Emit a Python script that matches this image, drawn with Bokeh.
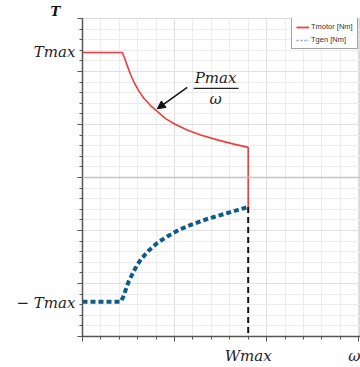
from bokeh.plotting import figure
from bokeh.models import (Range1d, SingleIntervalTicker, FixedTicker, LinearAxis, Label, Arrow,
                          NormalHead, Span, Legend, LegendItem, CustomJSTickFormatter)
from bokeh.embed import file_html
from bokeh.resources import INLINE

# ---- data ----
x_motor = [0.0, 0.432, 0.457, 0.486, 0.522, 0.565, 0.612, 0.666, 0.739, 0.812, 0.902,
           1.011, 1.138, 1.283, 1.464, 1.645, 1.80, 1.80]
t_motor = [2.358, 2.358, 2.254, 2.111, 1.944, 1.778, 1.635, 1.494, 1.357, 1.246, 1.111,
           1.0, 0.895, 0.802, 0.710, 0.630, 0.568, -0.556]

x_gen = [0.0, 0.413, 0.442, 0.467, 0.503, 0.551, 0.594, 0.649, 0.721, 0.812, 0.921,
         1.047, 1.192, 1.355, 1.536, 1.681, 1.80]
t_gen = [-2.346, -2.346, -2.254, -2.130, -1.957, -1.791, -1.648, -1.513, -1.376, -1.235, -1.111,
         -0.988, -0.883, -0.783, -0.691, -0.617, -0.556]

w_max = 1.80
t_max = 2.36
legend_labels = ["Tmotor [Nm]", "Tgen [Nm]"]

X_MIN, X_MAX = 0.0, 3.02
Y_MIN, Y_MAX = -3.0, 3.0

serif = "DejaVu Serif"
NAN = float("nan")

p = figure(width=360, height=367, output_backend="svg", toolbar_location=None,
           x_range=Range1d(X_MIN, X_MAX), y_range=Range1d(Y_MIN, Y_MAX),
           min_border_left=82, min_border_top=18, min_border_right=0, min_border_bottom=25)
p.background_fill_color = "white"
p.border_fill_color = "white"
p.outline_line_color = "#d8d8d8"

# "T" axis title at the top-left
p.title.text = "T"
p.title.align = "left"
p.title.offset = -32
p.title.standoff = 0
p.title.text_font = serif
p.title.text_font_style = "bold italic"
p.title.text_font_size = "13px"
p.title.text_color = "#111111"

blank = CustomJSTickFormatter(code="return ''")
for ax in (p.xaxis[0], p.yaxis[0]):
    ax.ticker = SingleIntervalTicker(interval=1, num_minor_ticks=5)
    ax.formatter = blank
    ax.axis_line_color = "#555555"
    ax.axis_line_width = 1.5
    ax.major_tick_line_color = "#555555"
    ax.minor_tick_line_color = "#555555"
    ax.major_tick_out = 5
    ax.major_tick_in = 0
    ax.minor_tick_out = 3
    ax.minor_tick_in = 0
    ax.major_label_standoff = 0

p.xgrid.ticker = p.xaxis[0].ticker
p.ygrid.ticker = p.yaxis[0].ticker
for g in (p.xgrid[0], p.ygrid[0]):
    g.grid_line_color = "#e0e0e0"
    g.minor_grid_line_color = "#ececec"
    g.grid_line_width = 1

# label-only axes carrying the symbolic tick texts
ylab = LinearAxis(ticker=FixedTicker(ticks=[t_max, -t_max], minor_ticks=[]),
                  major_label_overrides={t_max: "Tmax", -t_max: "− Tmax"},
                  axis_line_color=None, major_tick_line_color=None, minor_tick_line_color=None,
                  major_tick_out=0, major_tick_in=0, major_label_standoff=2,
                  major_label_text_font=serif, major_label_text_font_style="italic",
                  major_label_text_font_size="15px", major_label_text_color="#222222")
p.add_layout(ylab, "left")
xlab = LinearAxis(ticker=FixedTicker(ticks=[w_max, X_MAX], minor_ticks=[]),
                  major_label_overrides={w_max: "Wmax", X_MAX: "ω"},
                  axis_line_color=None, major_tick_line_color=None, minor_tick_line_color=None,
                  major_tick_out=0, major_tick_in=0, major_label_standoff=5,
                  major_label_text_font=serif, major_label_text_font_style="italic",
                  major_label_text_font_size="15px", major_label_text_color="#222222")
p.add_layout(xlab, "below")

p.add_layout(Span(location=0, dimension="width", line_color="#c4c4c4", line_width=1.5))

# curves
p.line(x_motor, t_motor, line_color="#f03c3c", line_width=1.6)
p.line(x_gen, t_gen, line_color="#0d5b88", line_width=4, line_dash="5 3")
p.segment(x0=[w_max], y0=[t_gen[-1]], x1=[w_max], y1=[Y_MIN],
          line_color="#111111", line_width=2, line_dash="6 4")

# legend proxies (one NaN row so nothing is drawn in the frame)
leg_motor = p.line([NAN], [NAN], line_color="#f03c3c", line_width=1.8)
leg_gen = p.line([NAN], [NAN], line_color="#6fa8d0", line_width=1.5, line_dash="2 2")
legend = Legend(items=[LegendItem(label=legend_labels[0], renderers=[leg_motor]),
                       LegendItem(label=legend_labels[1], renderers=[leg_gen])],
                location=(209, 287), label_text_font_size="7.5px",
                label_text_font="Liberation Sans", label_text_color="#333333",
                glyph_width=13, glyph_height=8, label_height=8, label_standoff=2,
                spacing=4, padding=4, margin=0,
                border_line_color="#444444", border_line_width=1,
                background_fill_alpha=1)
p.add_layout(legend)

# Pmax / omega annotation
p.add_layout(Label(x=1.446, y=1.88, text="Pmax", text_font=serif, text_font_style="italic",
                   text_font_size="15px", text_align="center", text_baseline="middle",
                   text_color="#222222"))
p.add_layout(Label(x=1.446, y=1.49, text="ω", text_font=serif, text_font_style="italic",
                   text_font_size="15px", text_align="center", text_baseline="middle",
                   text_color="#222222"))
p.add_layout(Arrow(x_start=1.207, y_start=1.68, x_end=1.696, y_end=1.68,
                   line_color="#222222", line_width=1.2, end=None))
p.add_layout(Arrow(x_start=1.138, y_start=1.70, x_end=0.812, y_end=1.296,
                   line_color="#111111", line_width=1.5,
                   end=NormalHead(size=8, fill_color="#111111", line_color="#111111")))

open("out.html", "w").write(file_html(p, INLINE))
